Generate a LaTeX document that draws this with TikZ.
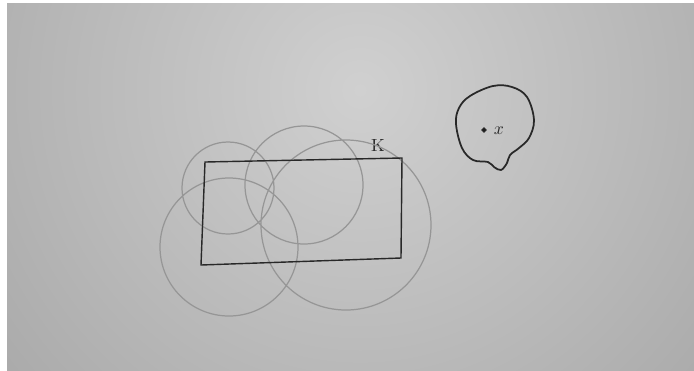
\documentclass[tikz,border=0pt]{standalone}
\definecolor{paperL}{RGB}{208,208,208}
\definecolor{paperD}{RGB}{165,165,165}
\definecolor{pencil}{RGB}{150,150,150}
\definecolor{ink}{RGB}{40,40,40}
\begin{document}
\begin{tikzpicture}[x=0.02cm,y=-0.02cm,
    pencil/.style={draw=pencil,line width=0.7pt},
    ink/.style={draw=ink,line width=0.8pt}]
    \useasboundingbox (0,0) rectangle (694,370);
    \fill[white] (0,0) rectangle (694,370);
    \fill[paperD] (7,3) rectangle (694,370);
    \begin{scope}
        \clip (7,3) rectangle (694,370);
        \shade[inner color=paperL,outer color=paperD] (360,90) circle (520);
    \end{scope}
    % the rectangle K
    \coordinate (A) at (205,162);
    \coordinate (B) at (402,158);
    \coordinate (C) at (401,258);
    \coordinate (D) at (201,265);
    % centres of the covering discs
    \coordinate (O1) at (228,188);
    \coordinate (O2) at (304,185);
    \coordinate (O3) at (346,225);
    \coordinate (O4) at (229,247);
    \coordinate (X) at (484,130);
    \node[text=ink] (K) at (378,145) {K};
    \node[text=ink] (x) at (499,131) {$x$};
    \draw[pencil] (O1) circle (46) (O2) circle (59) (O3) circle (85) (O4) circle (69);
    \draw[ink] (A) -- (B) -- (C) -- (D) -- cycle;
    \draw[ink,line width=1pt] plot[smooth cycle,tension=0.6] coordinates {(493,86) (512,87) (527,97) (534,120) (529,138) (519,148) (510,155) (507,163) (501,170) (494,167) (488,162) (473,160) (462,148) (456,124) (459,108) (470,96)};
    \fill[ink] (X) circle (1.8);
\end{tikzpicture}
\end{document}
